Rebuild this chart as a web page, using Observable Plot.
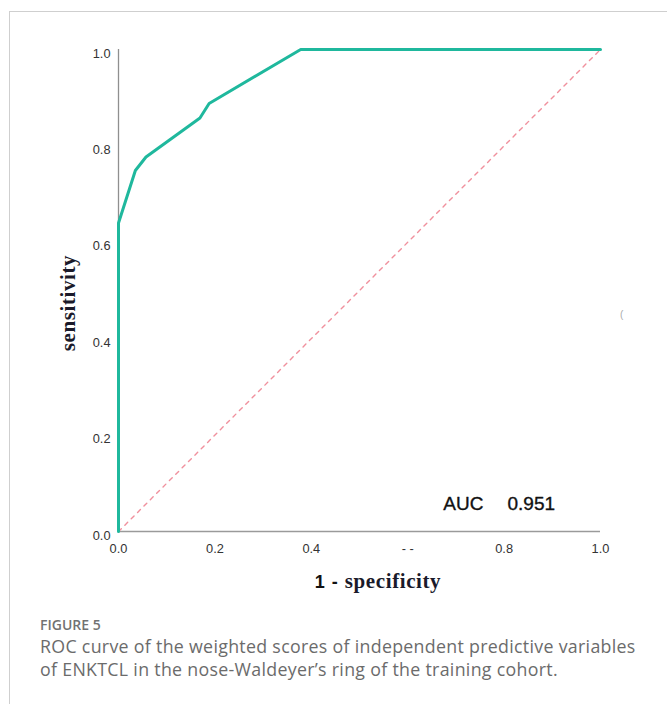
<!DOCTYPE html>
<html>
<head>
<meta charset="utf-8">
<script src="https://cdn.jsdelivr.net/npm/d3@7"></script>
<script src="https://cdn.jsdelivr.net/npm/@observablehq/plot@0.6"></script>
<style>
  html, body { margin: 0; padding: 0; background: #fff; width: 667px; height: 704px; overflow: hidden; }
  #frame { position: absolute; left: 9px; top: 11px; width: 700px; height: 720px; border-left: 1px solid #cfcfcf; border-top: 1px solid #cfcfcf; }
  #chart { position: absolute; left: 0; top: 0; }
  #ylab { position: absolute; left: 68px; top: 303px; transform: translate(-50%, -50%) rotate(-90deg); font-family: "Liberation Serif", "Times New Roman", serif; font-weight: bold; font-size: 21px; color: #1a1a2a; white-space: nowrap; letter-spacing: 0.6px; }
  #xlab { position: absolute; left: 378px; top: 581px; transform: translate(-50%, -50%); white-space: nowrap; }
  #xlab .a { font-family: "Liberation Sans", Arial, sans-serif; font-weight: bold; font-size: 18px; color: #111; word-spacing: 2px; }
  #xlab .b { font-family: "Liberation Serif", "Times New Roman", serif; font-weight: bold; font-size: 21px; color: #1a1a2a; letter-spacing: 0.6px; margin-left: 7px; }
  #paren { position: absolute; left: 620px; top: 309px; font-family: "Liberation Sans", Arial, sans-serif; font-size: 10px; color: #aaa; }
  #cap { position: absolute; left: 40px; top: 615px; font-family: "Open Sans", sans-serif; color: #6b6b6b; }
  #cap .fig { font-size: 14px; font-weight: 600; color: #727272; line-height: 20px; }
  #cap .txt { font-size: 17.8px; line-height: 23px; width: 608px; letter-spacing: 0.3px; }
</style>
</head>
<body>
<div id="frame"></div>
<div id="chart"></div>
<div id="ylab"></div>
<div id="xlab"><span class="a"></span><span class="b"></span></div>
<div id="paren">(</div>
<div id="cap"><div class="fig"></div><div class="txt"></div></div>
<script>
// ROC curve points (1 - specificity, sensitivity)
const fpr = [0, 0, 0.035, 0.057, 0.169, 0.188, 0.378, 1];
const tpr = [0, 0.64, 0.749, 0.777, 0.858, 0.888, 1, 1];
// reference diagonal
const diagX = [0, 1];
const diagY = [0, 1];
// ticks
const tickValues = [0, 0.2, 0.4, 0.6, 0.8, 1.0];
const yTickLabels = ["0.0", "0.2", "0.4", "0.6", "0.8", "1.0"];
const xTickLabels = ["0.0", "0.2", "0.4", "- -", "0.8", "1.0"];
// texts
const aucLabel = "AUC";
const aucValue = "0.951";
const yTitle = "sensitivity";
const xTitleA = "1 -";
const xTitleB = "specificity";
const figLabel = "FIGURE 5";
const captionText = "ROC curve of the weighted scores of independent predictive variables of ENKTCL in the nose-Waldeyer\u2019s ring of the training cohort.";

const roc = fpr.map((x, i) => ({x, y: tpr[i]}));
const diag = diagX.map((x, i) => ({x, y: diagY[i]}));

const chart = Plot.plot({
  width: 667,
  height: 600,
  marginLeft: 118,
  marginRight: 67,
  marginTop: 49,
  marginBottom: 69,
  x: {domain: [0, 1]},
  y: {domain: [0, 1]},
  style: {fontFamily: "'Liberation Sans', Arial, sans-serif", background: "transparent"},
  marks: [
    Plot.axisY({ticks: tickValues, tickFormat: (d) => yTickLabels[tickValues.indexOf(d)], tickSize: 0, tickPadding: 8, dy: 4, fontSize: 12.8, fill: "#333", label: null}),
    Plot.axisX({ticks: tickValues, tickFormat: (d) => xTickLabels[tickValues.indexOf(d)], tickSize: 0, tickPadding: 12, fontSize: 12.8, fill: "#333", label: null}),
    Plot.ruleX([0], {y1: 0, y2: 1, stroke: "#8f8f8f", strokeWidth: 1.3}),
    Plot.ruleY([0], {x1: 0, x2: 1, stroke: "#9a9a9a", strokeWidth: 1.6}),
    Plot.line(diag, {x: "x", y: "y", stroke: "#f0909d", strokeWidth: 1.4, strokeDasharray: "4,5"}),
    Plot.line(roc, {x: "x", y: "y", stroke: "#1fb89d", strokeWidth: 3}),
    Plot.text([aucLabel], {x: 0.674, y: 0.058, text: d => d, textAnchor: "start", fontSize: 19, fill: "#111", stroke: "#111", strokeWidth: 0.35}),
    Plot.text([aucValue], {x: 0.807, y: 0.058, text: d => d, textAnchor: "start", fontSize: 19, fill: "#111", stroke: "#111", strokeWidth: 0.35})
  ]
});
document.getElementById("chart").appendChild(chart);
document.getElementById("ylab").textContent = yTitle;
document.querySelector("#xlab .a").textContent = xTitleA;
document.querySelector("#xlab .b").textContent = xTitleB;
document.querySelector("#cap .fig").textContent = figLabel;
document.querySelector("#cap .txt").textContent = captionText;
</script>
</body>
</html>
